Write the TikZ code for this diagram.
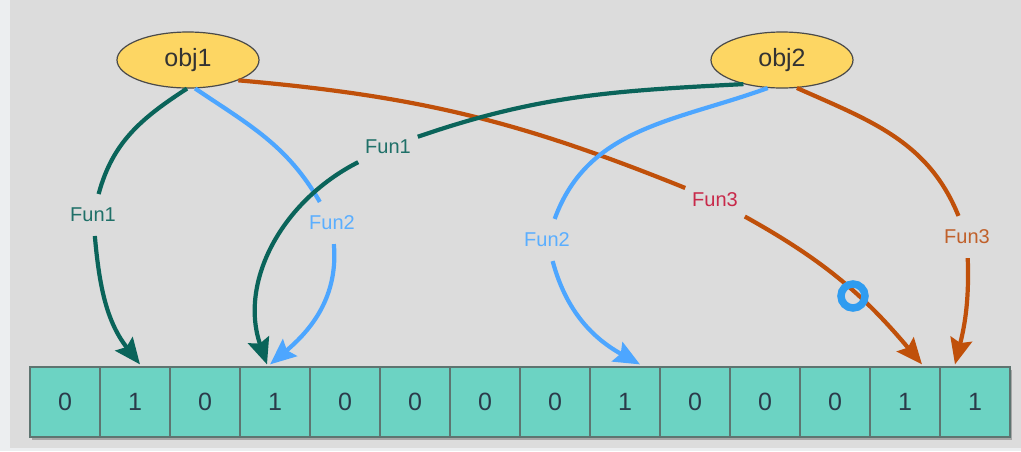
\documentclass[tikz,border=0pt]{standalone}
\usepackage{fontspec}
\setmainfont{Liberation Sans}
\usetikzlibrary{arrows.meta,calc,shapes.geometric}
\definecolor{bggray}{HTML}{DCDCDC}
\definecolor{edgewhite}{HTML}{ECEEF0}
\definecolor{tealline}{HTML}{0A645A}
\definecolor{teallabel}{HTML}{1F7068}
\definecolor{blueline}{HTML}{4DA6FF}
\definecolor{bluelabel}{HTML}{5AAEFF}
\definecolor{orangeline}{HTML}{C0500A}
\definecolor{orangelabel}{HTML}{C0602A}
\definecolor{redlabel}{HTML}{C8294A}
\definecolor{cellfill}{HTML}{6CD3C3}
\definecolor{cellborder}{HTML}{5E7470}
\definecolor{digit}{HTML}{2B3A4A}
\definecolor{objfill}{HTML}{FDD663}
\definecolor{objborder}{HTML}{4A4A4A}
\definecolor{ringblue}{HTML}{2F9CF0}
\tikzset{
  objnode/.style={ellipse, draw=objborder, line width=1.2pt, fill=objfill,
    minimum width=142pt, minimum height=56pt, inner sep=0pt,
    font=\fontsize{25}{28}\selectfont, text=black!80},
  cellnode/.style={rectangle, draw=cellborder, line width=1.2pt, fill=cellfill,
    minimum width=70pt, minimum height=70pt, inner sep=0pt,
    font=\fontsize{25}{28}\selectfont, text=digit},
  funlabel/.style={inner xsep=4pt, inner ysep=11pt, outer sep=3pt,
    font=\fontsize{20}{22}\selectfont},
  conn/.style={line width=4.2pt},
  arr/.style={conn, -{Stealth[length=26pt,width=22pt,inset=4pt]}},
}
\begin{document}
\begin{tikzpicture}[x=1pt,y=1pt]
  \useasboundingbox (0,0) rectangle (1021,-451);
  \fill[edgewhite] (0,0) rectangle (1021,-451);
  \fill[bggray] (10,0) rectangle (1021,-448);

  % objects
  \node[objnode] (obj1) at (188,-60) {obj1};
  \node[objnode] (obj2) at (782,-60) {obj2};

  % array
  \fill[black!35] (31.5,-369.5) rectangle (1011.5,-440);
  \foreach \i/\v in {0/0,1/1,2/0,3/1,4/0,5/0,6/0,7/0,8/1,9/0,10/0,11/0,12/1,13/1}{
    \node[cellnode] (c\i) at (65+70*\i,-402) {\v};
  }

  % labels
  \node[funlabel, text=teallabel]   (lA) at (93,-215)  {Fun1};
  \node[funlabel, text=bluelabel]   (lB) at (332,-223) {Fun2};
  \node[funlabel, text=teallabel]   (lC) at (388,-147) {Fun1};
  \node[funlabel, text=bluelabel]   (lD) at (547,-240) {Fun2};
  \node[funlabel, text=redlabel]    (lE) at (715,-200) {Fun3};
  \node[funlabel, text=orangelabel] (lF) at (967,-237) {Fun3};

  % arrow targets
  \coordinate (tA) at ($(c1.north)+(5,2)$);
  \coordinate (tB) at ($(c3.north)+(-5,2)$);
  \coordinate (tC) at ($(c3.north)+(-8,2)$);
  \coordinate (tD) at ($(c8.north)+(15,2)$);
  \coordinate (tE) at ($(c12.north)+(17,2)$);
  \coordinate (tF) at ($(c13.north)+(-20,2)$);

  % connectors
  \draw[conn, orangeline] (obj1.-22) to[out=-5,in=158] (lE);
  \draw[arr, orangeline] (lE) to[out=-29,in=130] (tE);
  \draw[conn, orangeline] (obj2.-62) to[out=-24,in=112] (lF);
  \draw[arr, orangeline] (lF) to[out=-88,in=76] (tF);

  \draw[conn, blueline] (obj1.-76) to[out=-34,in=120] (lB);
  \draw[arr, blueline] (lB) to[out=-85,in=40] (tB);
  \draw[conn, blueline] (obj2.-117) to[out=200,in=70] (lD);
  \draw[arr, blueline] (lD) to[out=-75,in=151] (tD);

  \draw[conn, tealline] (obj1.-92) to[out=213,in=75] (lA);
  \draw[arr, tealline] (lA) to[out=-85,in=128] (tA);
  \draw[conn, tealline] (obj2.-148) to[out=183,in=19] (lC);
  \draw[arr, tealline] (lC) to[out=207,in=109] (tC);

  % cursor ring
  \node[circle, draw=ringblue, line width=7.5pt, minimum size=24pt, inner sep=0pt] (ring) at (853,-296) {};
\end{tikzpicture}
\end{document}
